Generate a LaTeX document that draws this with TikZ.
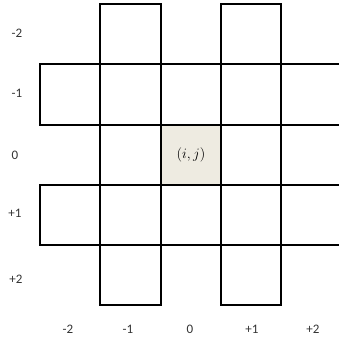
\documentclass[tikz,border=0pt]{standalone}
\usepackage{fontspec}
\setmainfont{Carlito}
\definecolor{beige}{HTML}{EEEBE1}
\definecolor{labgray}{HTML}{333333}
\begin{document}
\begin{tikzpicture}[x=1pt,y=-1pt,
  gridline/.style={line width=1.5pt, black},
  lab/.style={text=labgray, font=\fontsize{13}{15}\selectfont, inner sep=0pt}]
\useasboundingbox (0,0) rectangle (339,340);
\fill[beige] (161,125) rectangle (221,185);
% vertical strips (columns -1 and +1)
\draw[gridline] (100,4) rectangle (161,305);
\draw[gridline] (221,4) rectangle (281,305);
% horizontal strips (rows -1 and +1)
\draw[gridline] (339,64) -- (40,64) -- (40,125) -- (339,125);
\draw[gridline] (339,185) -- (40,185) -- (40,245) -- (339,245);
% centre label
\node[inner sep=0pt] (c) at (191,155) {\fontsize{15}{17}\selectfont$(i,j)$};
% row labels
\node[lab] (rm2) at (17,33) {-2};
\node[lab] (rm1) at (17,93) {-1};
\node[lab] (r0)  at (15,155) {0};
\node[lab] (rp1) at (15,213) {+1};
\node[lab] (rp2) at (16,279) {+2};
% column labels
\node[lab] (cm2) at (68,329) {-2};
\node[lab] (cm1) at (128,329) {-1};
\node[lab] (c0)  at (190,329) {0};
\node[lab] (cp1) at (252,329) {+1};
\node[lab] (cp2) at (313,329) {+2};
\end{tikzpicture}
\end{document}
